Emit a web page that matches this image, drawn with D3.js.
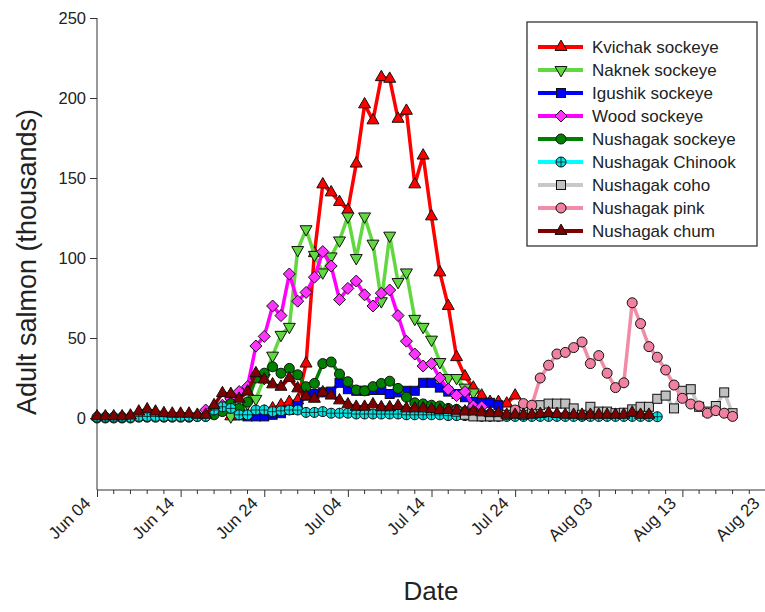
<!DOCTYPE html>
<html lang="en">
<head>
<meta charset="UTF-8">
<title>Adult salmon passage</title>
<script src="https://d3js.org/d3.v7.min.js"></script>
<style>
    body { margin: 0; background: #fff; }
    text { font-family: Arial, "Liberation Sans", sans-serif; fill: #222; }
    .axis path, .axis line { stroke: #333; }
</style>
</head>
<body>
<svg width="765" height="612"></svg>
<script>
    // series values (thousands), one value per day from the given start day (days after Jun 04)
    var seriesNames = ["Kvichak sockeye", "Naknek sockeye", "Igushik sockeye", "Wood sockeye",
        "Nushagak sockeye", "Nushagak Chinook", "Nushagak coho", "Nushagak pink", "Nushagak chum"];
    var seriesStart = [16, 16, 18, 13, 0, 0, 43, 50, 0];

    var kvichak = [1, 1, 2, 3, 4, 6, 8, 10, 11, 34, 103, 146, 141, 135, 130, 159, 196, 186, 213, 212,
        187, 192, 146, 164, 126, 91, 70, 38, 26, 19, 14, 10, 10, 9, 14];
    var naknek = [1, 3, 9, 12, 25, 39, 52, 57, 105, 118, 102, 91, 101, 111, 126, 100, 126, 109, 73, 114,
        85, 91, 62, 57, 49, 35, 25, 25, 19, 16];
    var igushik = [1, 1, 1, 2, 3, 5, 7.5, 14, 15, 16, 16.5, 22, 18, 17, 17, 17.5, 17.5, 15, 16, 17,
        17, 22, 22, 19, 16.5, 15, 13, 10, 9.5, 9.5, 8];
    var wood = [5, 6, 8, 12, 16.5, 19.6, 45, 51, 70, 64, 90, 73, 78.5, 88, 104, 95, 74, 81, 85.6, 77,
        70, 78, 80, 64, 48, 40, 32.5, 34, 25, 18, 14, 16.5, 7.5, 7];
    var nushSockeye = [0, 0, 0, 0, 0, 0.5, 0.5, 0.5, 0.5, 0.5, 0.5, 0.5, 1, 1, 2, 4, 9, 6, 10, 25,
        28, 32, 28, 31, 27, 19.5, 21.6, 34, 35, 27.5, 22.7, 17.5, 17, 19.6, 21.6, 23, 18.5, 13, 9.5, 8.8,
        8, 7.5, 6, 5.4, 4, 3.5, 3, 2.5, 2];
    var chinook = [0.5, 0.5, 0.5, 0.5, 0.5, 1, 1, 1, 1, 1, 1, 1, 1, 1, 5, 7, 6, 2, 2, 5,
        5, 4, 4.5, 5, 5, 3.5, 3.5, 4, 3, 3, 3, 2.5, 2.5, 2.5, 2.5, 2.5, 2.5, 2, 2, 2,
        2, 2, 1.5, 1.5, 1.5, 1.5, 1, 1, 1, 1, 1, 1, 1, 1, 1, 1, 1, 1, 1, 1,
        1, 1, 1, 1, 1, 1, 1, 0.8];
    var coho = [4, 2, 1, 1, 1, 1, 2, 4.6, 2, 5, 8, 9, 9, 9, 6, 2, 7, 4, 4, 3,
        3.3, 5.4, 7, 7, 12, 14, 6, 17, 18, 7, 4, 7.5, 16, 3];
    var pink = [5, 9, 8, 25, 33, 40, 41, 44, 47.5, 34, 39, 28, 19, 22, 72, 59, 44.6, 38, 30, 20.6,
        12.3, 8.75, 7.5, 3, 4.6, 3, 1];
    var chum = [1, 1, 1, 1, 1.5, 4, 5.4, 4, 3, 2.7, 2.7, 2.7, 2, 2, 8, 15.5, 15, 12, 16.5, 28,
        24, 21, 19.5, 25, 18.5, 13.5, 12, 16, 14, 11, 8.5, 7, 7, 8.5, 6.7, 6.7, 7.5, 6, 6, 6,
        5.5, 5, 5, 4.5, 4, 4, 3.5, 3, 3, 2, 2, 2, 2, 2.5, 3, 2.5, 2, 2, 2, 2,
        2, 2, 2, 2, 3.3, 2, 2];

    var seriesValues = [kvichak, naknek, igushik, wood, nushSockeye, chinook, coho, pink, chum];

    var yTicks = [0, 50, 100, 150, 200, 250];
    var xTickDays = [0, 10, 20, 30, 40, 50, 60, 70, 80];

    // styles
    var lineColors = ["#ff0000", "#62d840", "#0000ff", "#ff00ff", "#008000", "#00ffff", "#c8c8c8", "#f28ca6", "#800000"];
    var fillColors = ["#ff0000", "#62d840", "#0000ff", "#ff33ff", "#008000", "#00e5e5", "#c0c0c0", "#f081a0", "#800000"];
    var markers = ["triUp", "triDown", "square", "diamond", "circle", "crossCircle", "square", "circle", "triUp"];

    var svg = d3.select("svg");
    var start = new Date(2015, 5, 4);
    var dayDate = function (d) { return d3.timeDay.offset(start, d); };

    var x = d3.scaleTime().domain([dayDate(0), dayDate(80)]).range([97, 766]);
    var y = d3.scaleLinear().domain([-45, 250]).range([490, 18]);

    // axes
    var xAxis = svg.append("g").attr("class", "axis").attr("transform", "translate(0,490)")
        .call(d3.axisBottom(x).tickValues(xTickDays.map(dayDate)).tickSize(7).tickFormat(d3.timeFormat("%b %d")));
    xAxis.select(".domain").attr("d", "M97,0H766");
    xAxis.selectAll(".tick text")
        .attr("font-size", 17)
        .attr("text-anchor", "end")
        .attr("transform", "translate(-10,10) rotate(-45)")
        .attr("dy", "0.35em").attr("y", 0).attr("x", 0);

    svg.append("g").attr("class", "axis").attr("transform", "translate(0,490)")
        .selectAll("line").data(d3.range(0, 81, 2).filter(function (d) { return d % 10 !== 0; }))
        .enter().append("line")
        .attr("x1", function (d) { return x(dayDate(d)); })
        .attr("x2", function (d) { return x(dayDate(d)); })
        .attr("y1", 0).attr("y2", 4);

    var yAxis = svg.append("g").attr("class", "axis").attr("transform", "translate(97,0)")
        .call(d3.axisLeft(y).tickValues(yTicks).tickSize(7).tickSizeOuter(0));
    yAxis.selectAll(".tick text").attr("font-size", 16.5).attr("x", -11);
    yAxis.select(".domain").attr("d", "M0,18V490");

    svg.append("text").attr("transform", "translate(36,262) rotate(-90)")
        .attr("text-anchor", "middle").attr("font-size", 27)
        .text("Adult salmon (thousands)");
    svg.append("text").attr("x", 431).attr("y", 600)
        .attr("text-anchor", "middle").attr("font-size", 26)
        .text("Date");

    function drawMarker(g, type, fill) {
        var s;
        if (type === "triUp") {
            s = g.append("path").attr("d", d3.symbol(d3.symbolTriangle, 62)());
        } else if (type === "triDown") {
            s = g.append("path").attr("d", d3.symbol(d3.symbolTriangle, 62)()).attr("transform", "rotate(180)");
        } else if (type === "square") {
            s = g.append("rect").attr("x", -4.5).attr("y", -4.5).attr("width", 9).attr("height", 9);
        } else if (type === "diamond") {
            s = g.append("path").attr("d", "M0,-6L6,0L0,6L-6,0Z");
        } else {
            s = g.append("circle").attr("r", 5);
        }
        s.attr("fill", fill).attr("stroke", "#111").attr("stroke-width", 1);
        if (type === "crossCircle") {
            g.append("path").attr("d", "M-5,0H5M0,-5V5").attr("stroke", "#111").attr("stroke-width", 0.8);
        }
    }

    var line = d3.line()
        .x(function (d) { return x(dayDate(d.day)); })
        .y(function (d) { return y(d.v); });

    seriesNames.forEach(function (name, i) {
        var pts = seriesValues[i].map(function (v, k) { return { day: seriesStart[i] + k, v: v }; });
        var g = svg.append("g");
        g.append("path").datum(pts).attr("d", line)
            .attr("fill", "none").attr("stroke", lineColors[i]).attr("stroke-width", 3.5)
            .attr("stroke-linejoin", "round");
        g.selectAll("g.m").data(pts).enter().append("g").attr("class", "m")
            .attr("transform", function (d) { return "translate(" + x(dayDate(d.day)) + "," + y(d.v) + ")"; })
            .each(function () { drawMarker(d3.select(this), markers[i], fillColors[i]); });
    });

    // legend
    var legend = svg.append("g").attr("transform", "translate(527,22)");
    legend.append("rect").attr("width", 230).attr("height", 224)
        .attr("fill", "#fff").attr("stroke", "#333").attr("stroke-width", 1.3);
    seriesNames.forEach(function (name, i) {
        var row = legend.append("g").attr("transform", "translate(0," + (25 + i * 23) + ")");
        row.append("line").attr("x1", 11).attr("x2", 56).attr("y1", 0).attr("y2", 0)
            .attr("stroke", lineColors[i]).attr("stroke-width", 4);
        drawMarker(row.append("g").attr("transform", "translate(34,0)"), markers[i], fillColors[i]);
        row.append("text").attr("x", 65).attr("y", 6).attr("font-size", 17).text(name);
    });
</script>
</body>
</html>
